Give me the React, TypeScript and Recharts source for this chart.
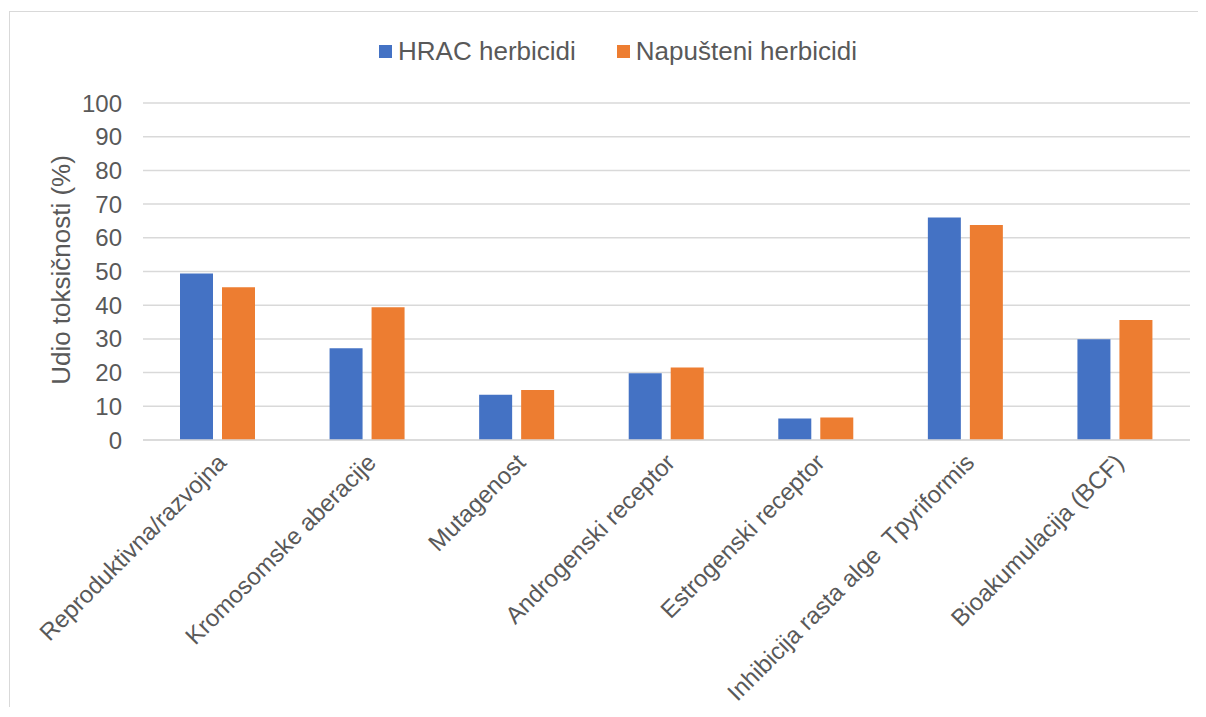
import { BarChart, Bar, XAxis, YAxis, CartesianGrid, Legend, Label } from 'recharts';

const categories = [
  'Reproduktivna/razvojna',
  'Kromosomske aberacije',
  'Mutagenost',
  'Androgenski receptor',
  'Estrogenski receptor',
  'Inhibicija rasta alge  Tpyriformis',
  'Bioakumulacija (BCF)',
];
const hracValues = [49.4, 27.2, 13.4, 19.8, 6.4, 66.0, 29.9];
const napusteniValues = [45.3, 39.4, 14.8, 21.5, 6.7, 63.8, 35.6];
const yTicks = [0, 10, 20, 30, 40, 50, 60, 70, 80, 90, 100];

const seriesNames = { hrac: 'HRAC herbicidi', napusteni: 'Napušteni herbicidi' };
const BLUE = '#4472C4';
const ORANGE = '#ED7D31';
const TEXT = '#595959';
const GRID = '#D9D9D9';
const FONT = '"Liberation Sans", Arial, sans-serif';

const data = categories.map((category, i) => ({
  category,
  hrac: hracValues[i],
  napusteni: napusteniValues[i],
}));

function CategoryTick({ x, y, payload }: any) {
  return (
    <text
      transform={`translate(${x + 10},${y + 16}) rotate(-45)`}
      textAnchor="end"
      fontSize={24}
      fontFamily={FONT}
      fill={TEXT}
      style={{ whiteSpace: 'pre' }}
    >
      {payload.value}
    </text>
  );
}

function LegendContent() {
  const items = [
    { color: BLUE, label: seriesNames.hrac },
    { color: ORANGE, label: seriesNames.napusteni },
  ];
  return (
    <div style={{ display: 'flex', justifyContent: 'center', gap: 41, paddingLeft: 20, fontFamily: FONT, height: 30 }}>
      {items.map(({ color, label }) => (
        <div key={label} style={{ display: 'flex', alignItems: 'center', gap: 6 }}>
          <div style={{ width: 13, height: 13, background: color }} />
          <span style={{ fontSize: 26, color: TEXT, lineHeight: '30px' }}>{label}</span>
        </div>
      ))}
    </div>
  );
}

export default function App() {
  // the frame is cut off at the right and bottom, like in the source image
  return (
    <div style={{ width: 1198, height: 707, marginBottom: -8, overflow: 'hidden' }}>
      <div
        style={{
          width: 1220,
          height: 730,
          border: `1px solid ${GRID}`,
          borderWidth: '1.5px',
          marginTop: 3,
          marginLeft: 1,
          background: '#fff',
        }}
      >
        <BarChart
          width={1196}
          height={703}
          data={data}
          margin={{ top: 61, right: 16, left: 0, bottom: 0 }}
          barSize={33}
          barGap={9}
        >
          <CartesianGrid vertical={false} stroke={GRID} strokeWidth={1.5} />
          <XAxis
            dataKey="category"
            interval={0}
            height={275}
            axisLine={{ stroke: GRID, strokeWidth: 1.5 }}
            tickLine={false}
            tick={<CategoryTick />}
          />
          <YAxis
            domain={[0, 100]}
            ticks={yTicks}
            interval={0}
            width={133}
            axisLine={false}
            tickLine={false}
            tickSize={6}
            tickMargin={15}
            tick={{ fontSize: 24, fill: TEXT, fontFamily: FONT }}
          >
            <Label
              content={({ viewBox }: any) => {
                const cx = viewBox.x + 51;
                const cy = viewBox.y + viewBox.height / 2 - 1.5;
                return (
                  <text
                    x={cx}
                    y={cy}
                    transform={`rotate(-90, ${cx}, ${cy})`}
                    textAnchor="middle"
                    dominantBaseline="central"
                    fontSize={26}
                    fontFamily={FONT}
                    fill={TEXT}
                  >
                    Udio toksičnosti (%)
                  </text>
                );
              }}
            />
          </YAxis>
          <Legend
            verticalAlign="top"
            wrapperStyle={{ top: 24, left: 0, width: 1196 }}
            content={<LegendContent />}
          />
          <Bar dataKey="hrac" name={seriesNames.hrac} fill={BLUE} isAnimationActive={false} />
          <Bar dataKey="napusteni" name={seriesNames.napusteni} fill={ORANGE} isAnimationActive={false} />
        </BarChart>
      </div>
    </div>
  );
}
